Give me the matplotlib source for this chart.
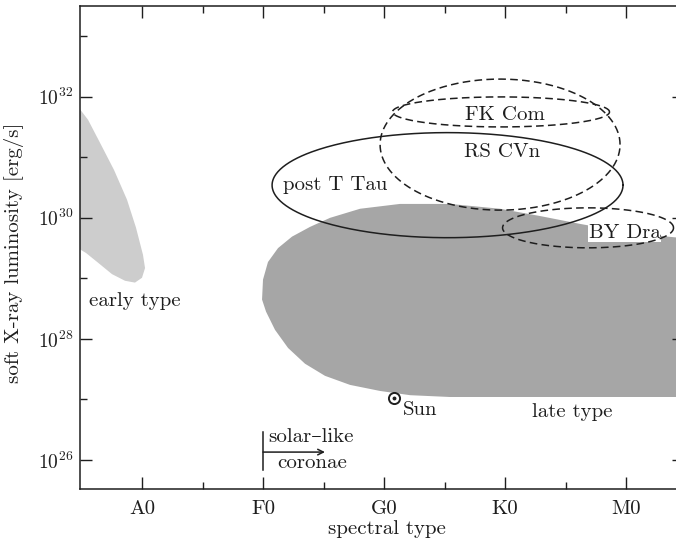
import numpy as np
import matplotlib
matplotlib.use("Agg")
import matplotlib.pyplot as plt
from matplotlib.ticker import FixedLocator, NullFormatter

plt.rcParams['font.family'] = ['cmr10', 'DejaVu Serif']
plt.rcParams['mathtext.fontset'] = 'cm'
plt.rcParams['axes.formatter.use_mathtext'] = True

# spectral classes on a linear axis (A0=1 ... M0=5)
spec_labels = ['A0', 'F0', 'G0', 'K0', 'M0']
spec_pos = [1, 2, 3, 4, 5]
spec_minor = [1.5, 2.5, 3.5, 4.5]

# log10 of luminosity ticks
logL_major = [26, 28, 30, 32]
logL_minor = [27, 29, 31, 33]

# regions (spectral pos, log10 Lx)
early_x = [0.47, 0.554, 0.653, 0.769, 0.876, 0.95, 1.008, 1.025, 1.0, 0.942, 0.86, 0.752, 0.636, 0.537, 0.47]
early_logL = [31.84, 31.62, 31.24, 30.79, 30.30, 29.84, 29.39, 29.17, 29.01, 28.93, 28.96, 29.07, 29.26, 29.42, 29.50]

late_x = [1.992, 2.0, 2.041, 2.124, 2.24, 2.388, 2.554, 2.802, 3.132, 3.545, 3.959, 4.289, 4.62, 5.033, 5.6,
          5.6, 3.545, 3.215, 2.967, 2.719, 2.512, 2.347, 2.207, 2.099, 2.025]
late_logL = [28.65, 28.98, 29.27, 29.50, 29.69, 29.85, 30.00, 30.15, 30.23, 30.23, 30.15, 30.03, 29.90, 29.75, 29.64,
             27.04, 27.04, 27.07, 27.14, 27.24, 27.39, 27.59, 27.85, 28.15, 28.45]

# ellipses: name, centre x, centre logL, width, height (decades), linestyle
ell_names = ['post T Tau', 'RS CVn', 'FK Com', 'BY Dra']
ell_cx = [3.525, 3.959, 3.967, 4.686]
ell_cy = [30.54, 31.21, 31.75, 29.835]
ell_w = [2.90, 1.983, 1.793, 1.413]
ell_h = [1.736, 2.165, 0.496, 0.661]
ell_ls = ['solid', 'dashed', 'dashed', 'dashed']

sun_x, sun_logL = 3.083, 27.025

ink = '#1e1e1e'

fig = plt.figure(figsize=(6.76, 5.43), dpi=100)
ax = fig.add_axes([80/676, 54/543, 604/676, 483/543])

ax.set_yscale('log')
ax.set_xlim(0.4876, 5.479)
ax.set_ylim(10**25.52, 10**33.5)

ax.fill(early_x, 10**np.array(early_logL), color='#cdcdcd', lw=0, zorder=1)
ax.fill(late_x, 10**np.array(late_logL), color='#a6a6a6', lw=0, zorder=1)

t = np.linspace(0, 2*np.pi, 400)
for cx, cy, w, h, ls in zip(ell_cx, ell_cy, ell_w, ell_h, ell_ls):
    ex = cx + w/2*np.cos(t)
    ey = cy + h/2*np.sin(t)
    if ls == 'dashed':
        ax.plot(ex, 10**ey, color=ink, lw=1.1, dashes=(5, 2.8), zorder=3)
    else:
        ax.plot(ex, 10**ey, color=ink, lw=1.1, zorder=3)

fs = 15
ax.text(4.0, 10**31.70, 'FK Com', fontsize=fs, ha='center', va='center', zorder=4, color=ink)
ax.text(3.975, 10**31.09, 'RS CVn', fontsize=fs, ha='center', va='center', zorder=4, color=ink)
ax.text(2.595, 10**30.545, 'post T Tau', fontsize=fs, ha='center', va='center', zorder=4, color=ink)
ax.text(4.99, 10**29.75, 'BY Dra', fontsize=fs, ha='center', va='center', zorder=2.5, color=ink,
        bbox=dict(facecolor='white', edgecolor='none', pad=0.3))
ax.text(0.942, 10**28.63, 'early type', fontsize=fs, ha='center', va='center', color=ink)
ax.text(4.554, 10**26.79, 'late type', fontsize=fs, ha='center', va='center', color=ink)

# the Sun
ax.plot([sun_x], [10**sun_logL], marker='o', ms=8, mfc='none', mec=ink, mew=1.4, zorder=5)
ax.plot([sun_x], [10**sun_logL], marker='o', ms=1.8, color=ink, zorder=5)
ax.text(3.157, 10**26.83, 'Sun', fontsize=fs, ha='left', va='center', color=ink)

# solar-like coronae marker
ax.plot([2.0, 2.0], [10**25.83, 10**26.46], color=ink, lw=1.1)
ax.annotate('', xy=(2.512, 10**26.13), xytext=(2.0, 10**26.13),
            arrowprops=dict(arrowstyle='->', color=ink, lw=1.1, shrinkA=0, shrinkB=0))
ax.text(2.041, 10**26.38, 'solar\u2013like', fontsize=fs, ha='left', va='center', color=ink)
ax.text(2.116, 10**25.95, 'coronae', fontsize=fs, ha='left', va='center', color=ink)

# axes & ticks
ax.xaxis.set_major_locator(FixedLocator(spec_pos))
ax.xaxis.set_minor_locator(FixedLocator(spec_minor))
ax.set_xticklabels(spec_labels)
ax.yaxis.set_major_locator(FixedLocator([10.0**v for v in logL_major]))
ax.yaxis.set_minor_locator(FixedLocator([10.0**v for v in logL_minor]))
ax.set_yticklabels([r'$10^{%d}$' % v for v in logL_major])
ax.yaxis.set_minor_formatter(NullFormatter())

ax.tick_params(which='both', direction='in', top=True, right=True, width=1.0, color=ink)
ax.tick_params(which='major', length=8.5)
ax.tick_params(which='minor', length=5)
ax.tick_params(axis='x', which='major', labelsize=fs, pad=8, labelcolor=ink)
ax.tick_params(axis='y', which='major', labelsize=14, pad=5, labelcolor=ink)
for s in ax.spines.values():
    s.set_linewidth(1.1)
    s.set_color(ink)

ax.text(0.508, -0.065, 'spectral type', transform=ax.transAxes, fontsize=fs, ha='center', va='top', color=ink)
ax.text(-0.109, 0.49, 'soft X-ray luminosity [erg/s]', transform=ax.transAxes, fontsize=fs,
        ha='center', va='center', rotation=90, color=ink)

fig.savefig('out.png', dpi=100)
